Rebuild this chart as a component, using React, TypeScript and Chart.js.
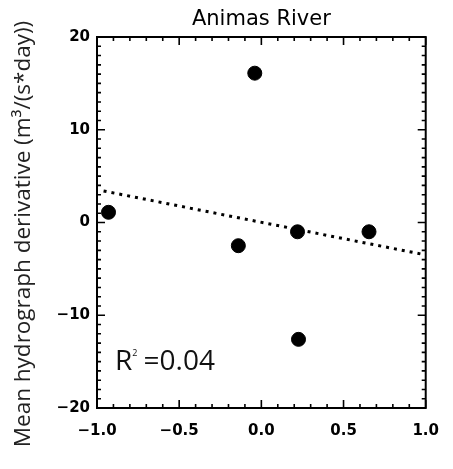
import React, { useEffect, useRef } from "react";
import { Chart, registerables } from "chart.js";

Chart.register(...registerables);

const TITLE = "Animas River";
const Y_TITLE = "Mean hydrograph derivative (m³/(s*day))";
const X_VALUES = [-0.93, -0.04, -0.14, 0.22, 0.655, 0.226];
const Y_VALUES = [1.1, 16.1, -2.5, -1.0, -1.0, -12.6];
const FIT_X = [-0.96, 1.0];
const FIT_Y = [3.4, -3.5];
const R2_TEXT = "0.04";
const X_MIN = -1, X_MAX = 1, X_MAJOR = 0.5, X_MINOR = 0.1;
const Y_MIN = -20, Y_MAX = 20, Y_MAJOR = 10, Y_MINOR = 1;

const fmt = (v: number, d: number) => {
  const s = Math.abs(v).toFixed(d);
  return (v < -1e-9 ? "\u2212" : "") + s;
};

const framePlugin = {
  id: "frame",
  afterDraw(chart: any) {
    const { ctx, chartArea: a, scales } = chart;
    const xs = scales.x, ys = scales.y;
    ctx.save();
    ctx.strokeStyle = "#000";
    ctx.lineWidth = 2;
    ctx.strokeRect(a.left, a.top, a.right - a.left, a.bottom - a.top);
    ctx.lineWidth = 1.6;
    ctx.beginPath();
    const nx = Math.round((X_MAX - X_MIN) / X_MINOR);
    for (let i = 0; i <= nx; i++) {
      const v = X_MIN + i * X_MINOR;
      const major = Math.abs(v / X_MAJOR - Math.round(v / X_MAJOR)) < 1e-6;
      const L = major ? 8 : 4;
      const px = xs.getPixelForValue(v);
      ctx.moveTo(px, a.bottom); ctx.lineTo(px, a.bottom - L);
      ctx.moveTo(px, a.top); ctx.lineTo(px, a.top + L);
    }
    const ny = Math.round((Y_MAX - Y_MIN) / Y_MINOR);
    for (let i = 0; i <= ny; i++) {
      const v = Y_MIN + i * Y_MINOR;
      const major = Math.abs(v / Y_MAJOR - Math.round(v / Y_MAJOR)) < 1e-6;
      const L = major ? 8 : 4;
      const py = ys.getPixelForValue(v);
      ctx.moveTo(a.left, py); ctx.lineTo(a.left + L, py);
      ctx.moveTo(a.right, py); ctx.lineTo(a.right - L, py);
    }
    ctx.stroke();

    // title
    ctx.fillStyle = "#000";
    ctx.font = "21px 'DejaVu Sans'";
    ctx.textAlign = "center";
    ctx.textBaseline = "middle";
    ctx.fillText(TITLE, (a.left + a.right) / 2, 20);

    // y title
    ctx.save();
    ctx.translate(24, 234);
    ctx.rotate(-Math.PI / 2);
    ctx.font = "22.5px 'Open Sans'";
    ctx.fillStyle = "#222";
    ctx.fillText(Y_TITLE, 0, 0);
    ctx.restore();

    // R^2 label
    ctx.textAlign = "left";
    ctx.textBaseline = "alphabetic";
    ctx.fillStyle = "#111";
    const bx = 115, by = 370;
    ctx.font = "28px 'Open Sans'";
    ctx.fillText("R", bx, by);
    const rw = ctx.measureText("R").width;
    ctx.font = "9px 'Open Sans'";
    ctx.fillText("2", bx + rw, by - 14);
    ctx.font = "28px 'Open Sans'";
    ctx.fillText(" =" + R2_TEXT, bx + rw + 4, by);
    ctx.restore();
  },
};

export default function App() {
  const ref = useRef<HTMLCanvasElement>(null);
  useEffect(() => {
    const chart = new Chart(ref.current!, {
      type: "scatter",
      data: {
        datasets: [
          {
            data: X_VALUES.map((x, i) => ({ x, y: Y_VALUES[i] })),
            backgroundColor: "#000",
            borderColor: "#000",
            pointRadius: 7,
            pointHoverRadius: 7,
          },
          {
            type: "line",
            data: FIT_X.map((x, i) => ({ x, y: FIT_Y[i] })),
            borderColor: "#000",
            borderWidth: 3,
            borderDash: [3, 5],
            pointRadius: 0,
            fill: false,
          } as any,
        ],
      },
      options: {
        animation: false,
        responsive: false,
        events: [],
        layout: { padding: { top: 37, right: 20, left: 0, bottom: 0 } },
        plugins: { legend: { display: false }, tooltip: { enabled: false }, title: { display: false } },
        scales: {
          x: {
            type: "linear",
            min: X_MIN,
            max: X_MAX,
            grid: { display: false, drawTicks: false },
            border: { display: false },
            ticks: {
              stepSize: X_MAJOR,
              padding: 14,
              color: "#000",
              font: { family: "'DejaVu Sans'", size: 15, weight: "bold" },
              callback: (v: any) => fmt(Number(v), 1),
              maxRotation: 0,
            },
            afterFit: (s: any) => { s.height = 61; },
          },
          y: {
            type: "linear",
            min: Y_MIN,
            max: Y_MAX,
            grid: { display: false, drawTicks: false },
            border: { display: false },
            ticks: {
              stepSize: Y_MAJOR,
              padding: 7,
              color: "#000",
              font: { family: "'DejaVu Sans'", size: 15, weight: "bold" },
              callback: (v: any) => fmt(Number(v), 0),
            },
            afterFit: (s: any) => { s.width = 97; },
          },
        },
      },
      plugins: [framePlugin],
    });
    return () => chart.destroy();
  }, []);
  return (
    <div style={{ position: "fixed", left: 0, top: 0, width: 453, height: 469, background: "#fff" }}>
      <canvas ref={ref} width={453} height={469} style={{ width: 453, height: 469 }} />
    </div>
  );
}
